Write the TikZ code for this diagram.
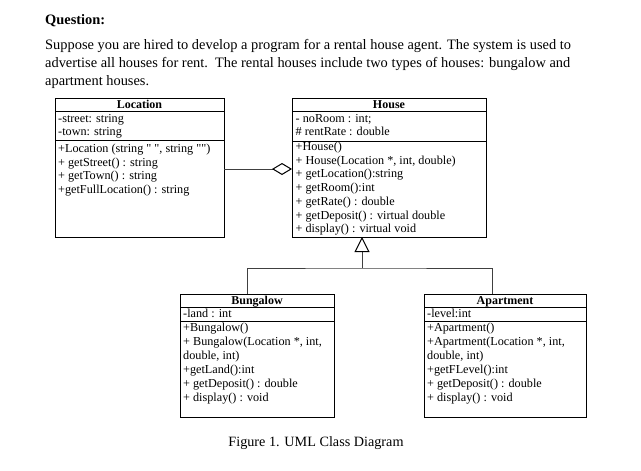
\documentclass[tikz,border=0pt]{standalone}
\usepackage{fontspec}
\setmainfont{Liberation Serif}[Ligatures=TeXOff]
\usetikzlibrary{arrows.meta}
\tikzset{
  box/.style={draw=black, line width=0.9pt, anchor=north west, inner sep=0pt, outer sep=0pt},
  sep/.style={draw=black, line width=0.9pt},
  cls/.style={font=\fontsize{12.2}{13}\selectfont, inner sep=0pt, anchor=base west},
  ttl/.style={font=\fontsize{12}{13}\selectfont\bfseries, inner sep=0pt, anchor=base},
  txt/.style={font=\fontsize{14.4}{16}\selectfont, inner sep=0pt, anchor=base west},
  conn/.style={draw=black!75, line width=1pt},
}
\begin{document}
\begin{tikzpicture}[x=1pt,y=-1pt]
\useasboundingbox[fill=white] (0,0) rectangle (641,471);
% question text
\node[txt, font=\fontsize{14.4}{16}\selectfont\bfseries] (q) at (45,24) {Question:};
\node[txt] (p1) at (45,49) {Suppose you are hired to develop a program for a rental house agent. The system is used to};
\node[txt] (p2) at (45,67) {advertise all houses for rent.\ \ The rental houses include two types of houses: bungalow and};
\node[txt] (p3) at (45,85) {apartment houses.};
% Location
\node[box, minimum width=169pt, minimum height=139pt] (loc) at (55,98) {};
\draw[sep] (55,111) -- (224,111);
\draw[sep] (55,140) -- (224,140);
\node[ttl] (locT) at (139.5,108.5) {Location};
\foreach \t [count=\i] in {{-street: string},{-town: string}}
  \node[cls] (locA\i) at ({58},{122+13.3*(\i-1)}) {\t};
\foreach \t [count=\i] in {{+Location (string " ", string "")},{+ getStreet() : string},{+ getTown() : string},{+getFullLocation() : string}}
  \node[cls] (locM\i) at ({58},{152.5+13.5*(\i-1)}) {\t};
% House
\node[box, minimum width=194pt, minimum height=139pt] (house) at (292,98) {};
\draw[sep] (292,111) -- (486,111);
\draw[sep] (292,141) -- (486,141);
\node[ttl] (houseT) at (389,108.5) {House};
\foreach \t [count=\i] in {{- noRoom : int;},{\# rentRate : double}}
  \node[cls] (houseA\i) at ({295.5},{122+13.7*(\i-1)}) {\t};
\foreach \t [count=\i] in {{+House()},{+ House(Location *, int, double)},{+ getLocation():string},{+ getRoom():int},{+ getRate() : double},{+ getDeposit() : virtual double},{+ display() : virtual void}}
  \node[cls] (houseM\i) at ({295.5},{150.5+13.7*(\i-1)}) {\t};
% Bungalow
\node[box, minimum width=154pt, minimum height=123pt] (bung) at (180,294) {};
\draw[sep] (180,307) -- (334,307);
\draw[sep] (180,321) -- (334,321);
\node[ttl] (bungT) at (257,304.5) {Bungalow};
\node[cls] (bungA1) at (183,317.5) {-land : int};
\foreach \t [count=\i] in {{+Bungalow()},{+ Bungalow(Location *, int,},{double, int)},{+getLand():int},{+ getDeposit() : double},{+ display() : void}}
  \node[cls] (bungM\i) at ({183},{331.5+13.9*(\i-1)}) {\t};
% Apartment
\node[box, minimum width=162pt, minimum height=123pt] (apt) at (424,294) {};
\draw[sep] (424,307) -- (586,307);
\draw[sep] (424,321) -- (586,321);
\node[ttl] (aptT) at (505,304.5) {Apartment};
\node[cls] (aptA1) at (427,317.5) {-level:int};
\foreach \t [count=\i] in {{+Apartment()},{+Apartment(Location *, int,},{double, int)},{+getFLevel():int},{+ getDeposit() : double},{+ display() : void}}
  \node[cls] (aptM\i) at ({427},{331.5+13.9*(\i-1)}) {\t};
% aggregation
\coordinate (aggS) at (224,169);
\coordinate (aggE) at (292,169);
\draw[conn, -{Diamond[open, length=20pt, width=12pt, line width=1pt, black]}] (aggS) -- (aggE);
% generalization
\coordinate (gJ) at (362,268);
\coordinate (gH) at (362,237);
\coordinate (gB) at (247,294);
\coordinate (gA) at (492,294);
\draw[conn, -{Triangle[open, length=15pt, width=15pt, line width=1pt, black]}] (gJ) -- (gH);
\draw[conn] (gB) |- (gJ) -| (gA);
% caption
\node[txt, font=\fontsize{14.2}{16}\selectfont, anchor=base] (cap) at (316,446) {Figure 1. UML Class Diagram};
\end{tikzpicture}
\end{document}
